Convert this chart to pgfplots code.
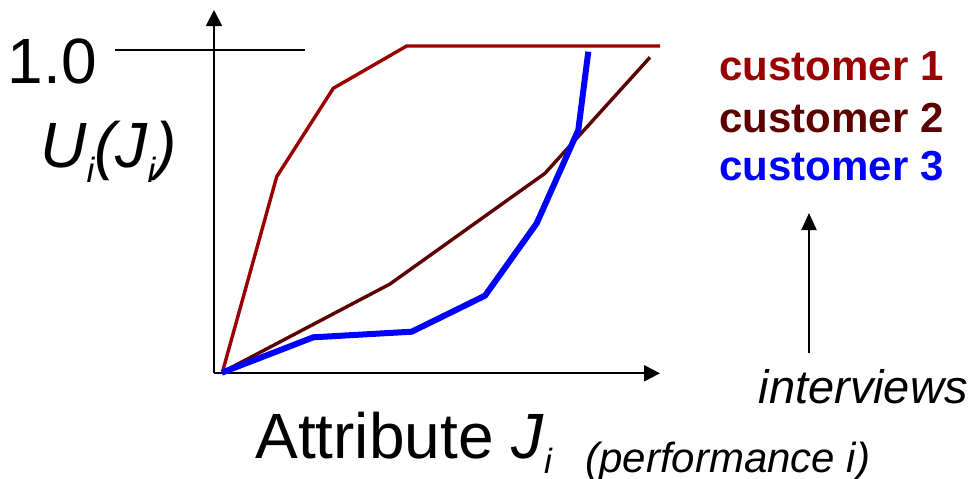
\documentclass[border=0pt]{standalone}
\usepackage{pgfplots}
\pgfplotsset{compat=1.18}
\usetikzlibrary{arrows.meta}
\usepackage{fontspec}
\setmainfont{Liberation Sans}
\definecolor{cone}{HTML}{990000}
\definecolor{ctwo}{HTML}{5C0000}
\definecolor{cthree}{HTML}{0000FF}
\newcommand\sub[1]{\raisebox{-7.5pt}{\fontsize{17.5pt}{20pt}\selectfont #1}}
\begin{document}
\begin{tikzpicture}
\useasboundingbox (0,0) rectangle (485pt,239pt);
\begin{axis}[
  at={(107pt,52.35pt)}, anchor=south west,
  x=0.5pt, y=0.5pt,
  xmin=214, xmax=660, ymin=104.7, ymax=468,
  axis lines=left,
  axis line style={line width=1pt, -{Triangle[length=8pt,width=8pt]}},
  xtick=\empty, ytick=\empty,
  clip=false,
]
% reference line at 1.0
\addplot[black, line width=1pt] coordinates {(115,428) (305,428)};
% customer 1
\addplot[cone, line width=1.7pt] coordinates {
  (223,108) (276.7,301.3) (333.3,389.7) (406.7,432) (660,432)};
% customer 2
\addplot[ctwo, line width=1.7pt] coordinates {
  (223.3,106.3) (390,194) (545,304.7) (650,420.7)};
% customer 3
\addplot[cthree, line width=3pt] coordinates {
  (221.7,105.3) (313.3,140.7) (411.7,146.3) (485,182.3) (536.7,254.7) (578.3,348) (588.3,426.3)};

\node[anchor=base east, font=\fontsize{32pt}{38pt}\selectfont, inner sep=0pt] at (axis cs:97,395) {1.0};
\node[anchor=base west, font=\fontsize{32pt}{38pt}\selectfont\itshape, inner sep=0pt] at (axis cs:40,311) {U\sub{i}(J\sub{i})};

\node[anchor=base west, font=\fontsize{21pt}{25pt}\selectfont\bfseries, text=cone, inner sep=0pt] at (axis cs:719,398) {customer 1};
\node[anchor=base west, font=\fontsize{21pt}{25pt}\selectfont\bfseries, text=ctwo, inner sep=0pt] at (axis cs:719,346) {customer 2};
\node[anchor=base west, font=\fontsize{21pt}{25pt}\selectfont\bfseries, text=cthree, inner sep=0pt] at (axis cs:719,298) {customer 3};

\draw[line width=1pt, -{Triangle[length=8.5pt,width=7.5pt]}] (axis cs:809,125) -- (axis cs:809,265);
\node[anchor=base east, font=\fontsize{23.5pt}{27pt}\selectfont\itshape, inner sep=0pt] at (axis cs:968,75) {interviews};

\node[anchor=base west, font=\fontsize{32pt}{38pt}\selectfont, inner sep=0pt] at (axis cs:255,20) {Attribute \textit{J}\sub{\itshape i}};
\node[anchor=base west, font=\fontsize{21pt}{25pt}\selectfont\itshape, inner sep=0pt] at (axis cs:585,6) {(performance i)};
\end{axis}
\end{tikzpicture}
\end{document}
